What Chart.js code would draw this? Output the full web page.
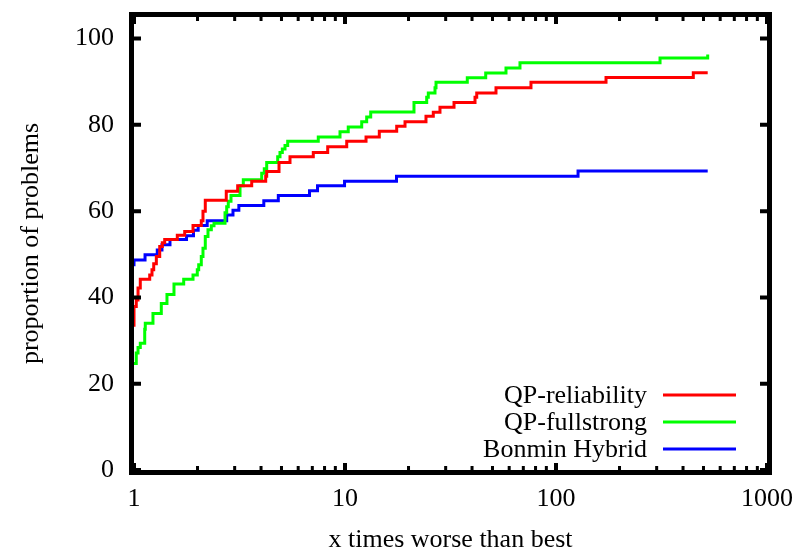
<!DOCTYPE html>
<html>
<head>
<meta charset="utf-8">
<script src="https://cdn.jsdelivr.net/npm/chart.js@4/dist/chart.umd.min.js"></script>
<style>
  html, body { margin: 0; padding: 0; background: #fff; }
</style>
</head>
<body>
<canvas id="chart" width="799" height="549"></canvas>
<script>
// x = times worse than best, y = proportion of problems (%)
const relX = [1, 1, 1.025, 1.045, 1.071, 1.187, 1.217, 1.24, 1.276, 1.324, 1.362, 1.398, 1.604, 1.739, 1.904, 2.084, 2.123, 2.177, 2.737, 3.10, 3.613, 4.209, 4.255, 4.867, 5.487, 7.075, 8.28, 10.19, 12.58, 14.54, 17.58, 19.25, 24.2, 26.21, 28.19, 32.86, 41.32, 42.1, 51.95, 76.1, 172.6, 447.4, 523.6];
const relY = [33.2, 37.9, 39.4, 42.2, 44.2, 45.2, 46.4, 47.8, 49.5, 51.8, 52.7, 53.4, 54.4, 55.3, 56.7, 57.8, 60.0, 62.5, 64.6, 65.9, 66.9, 68.1, 69.2, 71.3, 72.6, 73.6, 74.9, 76.2, 77.2, 78.5, 79.7, 80.7, 82.0, 82.9, 84.1, 85.2, 86.4, 87.4, 88.6, 89.9, 91.0, 92.1, 92.1];

const fullX = [1, 1.025, 1.045, 1.071, 1.124, 1.131, 1.23, 1.347, 1.433, 1.547, 1.72, 1.904, 1.995, 2.026, 2.084, 2.123, 2.177, 2.242, 2.325, 2.394, 2.70, 2.75, 2.798, 2.882, 3.18, 3.296, 4.029, 4.145, 4.255, 4.797, 4.919, 5.045, 5.196, 5.351, 7.47, 9.47, 10.36, 12.0, 12.67, 13.24, 21.23, 24.39, 24.82, 26.7, 27.0, 37.98, 46.44, 57.94, 67.5, 311.2, 523.6];
const fullY = [24.7, 27.1, 28.4, 29.4, 32.6, 34.0, 36.3, 38.6, 40.7, 43.1, 44.2, 45.2, 46.4, 47.6, 49.5, 51.4, 54.1, 55.7, 56.6, 57.2, 59.6, 61.0, 62.3, 63.6, 65.9, 67.3, 68.8, 69.8, 71.3, 72.6, 73.6, 74.4, 75.2, 76.2, 77.2, 78.4, 79.5, 80.7, 81.8, 83.0, 85.2, 86.4, 87.4, 88.6, 89.9, 90.9, 92.0, 93.2, 94.4, 95.5, 96.3];

const hybX = [1, 1, 1.128, 1.289, 1.357, 1.481, 1.774, 1.914, 2.015, 2.223, 2.75, 2.945, 3.14, 4.123, 4.83, 6.79, 7.41, 9.95, 17.54, 127.2, 523.6];
const hybY = [47.2, 48.7, 49.9, 51.0, 52.2, 53.4, 54.3, 55.6, 56.7, 57.8, 59.1, 60.2, 61.3, 62.4, 63.6, 64.7, 65.9, 66.9, 68.1, 69.3, 69.3];

const seriesNames = ["QP-reliability", "QP-fullstrong", "Bonmin Hybrid"];
const seriesColors = ["#ff0000", "#00ff00", "#0000ff"];

const xTicks = [1, 10, 100, 1000];
const yTicks = [0, 20, 40, 60, 80, 100];

const FONT = "'Liberation Serif', 'Times New Roman', serif";

function toPoints(xs, ys) {
  return xs.map((x, i) => ({ x: x, y: ys[i] }));
}

// gnuplot style frame, inward ticks and legend
const framePlugin = {
  id: "frame",
  afterDraw(chart) {
    const ctx = chart.ctx;
    const a = chart.chartArea;
    const xs = chart.scales.x;
    const ys = chart.scales.y;
    ctx.save();
    ctx.strokeStyle = "#000";

    // major y ticks, left and right
    ctx.lineWidth = 4;
    yTicks.forEach(v => {
      const py = ys.getPixelForValue(v);
      ctx.beginPath();
      ctx.moveTo(a.left, py); ctx.lineTo(a.left + 7, py);
      ctx.moveTo(a.right, py); ctx.lineTo(a.right - 7, py);
      ctx.stroke();
    });
    // major x ticks, bottom and top
    xTicks.forEach(v => {
      const px = xs.getPixelForValue(v);
      ctx.beginPath();
      ctx.moveTo(px, a.bottom); ctx.lineTo(px, a.bottom - 7);
      ctx.moveTo(px, a.top); ctx.lineTo(px, a.top + 7);
      ctx.stroke();
    });
    // minor log ticks
    ctx.lineWidth = 3;
    for (let d = 1; d < 1000; d *= 10) {
      for (let m = 2; m <= 9; m++) {
        const px = xs.getPixelForValue(d * m);
        ctx.beginPath();
        ctx.moveTo(px, a.bottom); ctx.lineTo(px, a.bottom - 4);
        ctx.moveTo(px, a.top); ctx.lineTo(px, a.top + 4);
        ctx.stroke();
      }
    }

    // border
    ctx.lineWidth = 5;
    ctx.strokeRect(a.left - 2.5, a.top - 2.5, a.right - a.left + 5, a.bottom - a.top + 5);

    // legend, text left of the line sample
    ctx.font = "26px " + FONT;
    ctx.textAlign = "right";
    ctx.textBaseline = "middle";
    chart.data.datasets.forEach((ds, i) => {
      const y = a.bottom - 75 + i * 27;
      ctx.fillStyle = "#000";
      ctx.fillText(ds.label, a.right - 120, y + 1);
      ctx.strokeStyle = ds.borderColor;
      ctx.lineWidth = 3;
      ctx.beginPath();
      ctx.moveTo(a.right - 104, y);
      ctx.lineTo(a.right - 31, y);
      ctx.stroke();
    });
    ctx.restore();
  }
};

new Chart(document.getElementById("chart"), {
  type: "scatter",
  data: {
    datasets: [
      { label: seriesNames[0], data: toPoints(relX, relY) },
      { label: seriesNames[1], data: toPoints(fullX, fullY) },
      { label: seriesNames[2], data: toPoints(hybX, hybY) }
    ].map((ds, i) => Object.assign(ds, {
      showLine: true,
      stepped: "before",
      borderColor: seriesColors[i],
      backgroundColor: seriesColors[i],
      borderWidth: 3,
      pointRadius: 0,
      fill: false
    }))
  },
  options: {
    responsive: false,
    animation: false,
    devicePixelRatio: 1,
    layout: { padding: { top: 17, right: 32, left: 0, bottom: 0 } },
    plugins: {
      legend: { display: false },
      tooltip: { enabled: false }
    },
    scales: {
      x: {
        type: "logarithmic",
        min: 1,
        max: 1000,
        afterBuildTicks: s => { s.ticks = xTicks.map(v => ({ value: v })); },
        afterFit: s => { s.height = 79; s.paddingLeft = 0; s.paddingRight = 0; },
        grid: { display: false },
        border: { display: false },
        ticks: {
          color: "#000",
          padding: 6,
          maxRotation: 0,
          autoSkip: false,
          font: { family: FONT, size: 26 },
          callback: v => String(v)
        },
        title: {
          display: true,
          text: "x times worse than best",
          color: "#000",
          font: { family: FONT, size: 26, lineHeight: 1 },
          padding: { top: 0, bottom: -4 }
        }
      },
      y: {
        min: 0,
        max: 105,
        afterBuildTicks: s => { s.ticks = yTicks.map(v => ({ value: v })); },
        afterFit: s => { s.width = 134; s.paddingTop = 0; s.paddingBottom = 0; },
        grid: { display: false },
        border: { display: false },
        ticks: {
          color: "#000",
          padding: 12,
          font: { family: FONT, size: 26 }
        },
        title: {
          display: true,
          text: "proportion of problems",
          color: "#000",
          font: { family: FONT, size: 26, lineHeight: 1.2 },
          padding: { top: 16, bottom: 0 }
        }
      }
    }
  },
  plugins: [framePlugin]
});
</script>
</body>
</html>
